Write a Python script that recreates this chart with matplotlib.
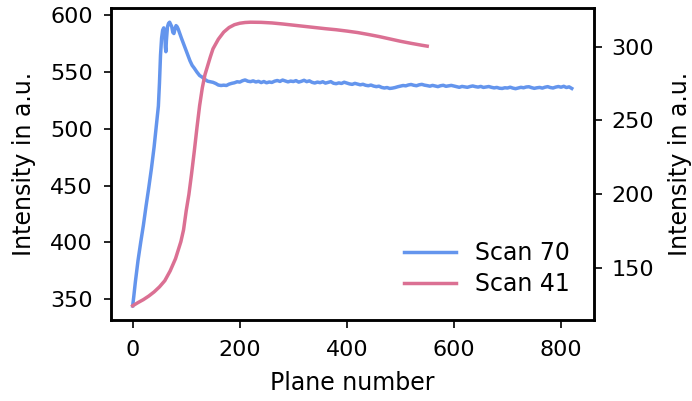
import numpy as np
import matplotlib
matplotlib.use('Agg')
import matplotlib.pyplot as plt

# Scan 70 (left axis): rise + peak, then plateau sampled every 5 planes
scan70_x_rise = [0, 2, 5, 10, 15, 20, 25, 30, 35, 40, 45, 48, 50, 52, 54, 56, 58, 60,
                 61, 62, 63, 65, 67, 69, 71, 73, 75, 77, 79, 81, 83, 85, 88, 91, 95,
                 99, 103, 107, 111, 115, 120, 125, 130, 135, 140, 145]
scan70_y_rise = [344, 352, 365, 384, 400, 415, 432, 448, 465, 484, 506, 520, 540, 565,
                 580, 587, 589, 585, 572, 568, 578, 590, 593, 594, 592, 590, 585, 584,
                 588, 591, 590, 588, 584, 580, 575, 570, 565, 560, 556, 553.5, 550, 547,
                 545.5, 543.5, 542, 541.5]
scan70_x_flat = list(range(150, 825, 5))
scan70_y_flat = [
    541.0, 540.0, 538.6, 538.2, 538.5, 538.2, 539.4, 540.1, 540.6, 541.5,
    541.2, 542.4, 543.1, 542.0, 541.6, 542.3, 541.3, 541.9, 540.8, 541.7,
    540.6, 541.3, 540.9, 542.0, 542.6, 541.8, 543.0, 542.2, 541.4, 542.1,
    541.7, 542.5, 541.2, 541.9, 542.8, 541.6, 542.3, 541.0, 540.4, 541.2,
    540.7, 541.5, 540.3, 540.9, 541.6, 540.2, 539.8, 540.5, 540.0, 541.1,
    540.4, 539.6, 539.2, 540.1, 539.5, 538.8, 539.3, 538.4, 538.0, 538.6,
    537.7, 537.2, 537.6, 536.5, 536.0, 536.4, 535.6, 535.9, 536.4, 537.1,
    537.6, 538.2, 537.9, 538.7, 539.1, 538.4, 538.0, 538.8, 539.2, 538.5,
    538.1, 537.6, 538.3, 537.8, 537.2, 538.0, 538.4, 537.5, 537.9, 538.3,
    537.7, 537.1, 536.6, 537.4, 537.0, 536.6, 537.3, 537.8, 537.2, 536.8,
    537.4, 536.5, 536.9, 537.3, 536.6, 536.1, 536.5, 535.8, 535.6, 536.2,
    536.0, 536.7, 535.9, 535.4, 536.0, 536.6, 536.2, 536.9, 537.1, 536.3,
    535.7, 536.2, 536.5, 535.9, 536.7, 537.2, 536.4, 536.0, 536.8, 537.3,
    536.7, 537.5, 536.4, 537.0, 535.6]

# Scan 41 (right axis)
scan41_x = [0, 10, 20, 30, 40, 50, 60, 70, 80, 90, 95, 100, 105, 110, 115, 120, 125,
            130, 135, 140, 145, 150, 160, 170, 180, 190, 200, 210, 220, 240, 260, 280,
            300, 320, 340, 360, 380, 400, 420, 440, 460, 480, 500, 520, 540, 550]
scan41_y = [124.6, 126.8, 128.8, 131.2, 134, 137.4, 141.6, 148.2, 156.5, 168, 176, 189,
            200, 214, 229, 245, 260, 272, 281, 287, 293, 298.5, 305, 309.8, 312.9, 314.8,
            315.8, 316.3, 316.5, 316.4, 316, 315.3, 314.5, 313.7, 312.9, 312.1, 311.4,
            310.5, 309.5, 308.2, 306.8, 305.2, 303.6, 302.2, 300.9, 300.3]

tick_fs = 16
label_fs = 17
plt.rcParams['font.family'] = 'DejaVu Sans'

fig = plt.figure(figsize=(6.92, 4.01), dpi=100)
ax = fig.add_axes([0.160, 0.202, 0.698, 0.778])
ax2 = ax.twinx()

l1, = ax.plot(scan70_x_rise + scan70_x_flat, scan70_y_rise + scan70_y_flat,
              color='cornflowerblue', lw=2.5, label='Scan 70')
l2, = ax2.plot(scan41_x, scan41_y, color='palevioletred', lw=2.5, label='Scan 41')

ax.set_xticks([0, 200, 400, 600, 800])
ax.set_yticks([350, 400, 450, 500, 550, 600])
ax2.set_yticks([150, 200, 250, 300])

ax.set_xlabel('Plane number', fontsize=label_fs, labelpad=8)
ax.set_ylabel('Intensity in a.u.', fontsize=label_fs, labelpad=10)
ax2.set_ylabel('Intensity in a.u.', fontsize=label_fs, labelpad=10)

for a in (ax, ax2):
    a.tick_params(labelsize=tick_fs, length=5.4, width=1.2)
    for s in a.spines.values():
        s.set_linewidth(1.8)
ax.tick_params(axis='x', pad=9)
ax.tick_params(axis='y', pad=7.5)
ax2.tick_params(axis='y', pad=7.5)

ax2.legend(handles=[l1, l2], loc='lower right', frameon=False, fontsize=label_fs,
           handlelength=2.2, borderaxespad=0.6, labelspacing=0.3)

fig.savefig('out.png', dpi=100)
